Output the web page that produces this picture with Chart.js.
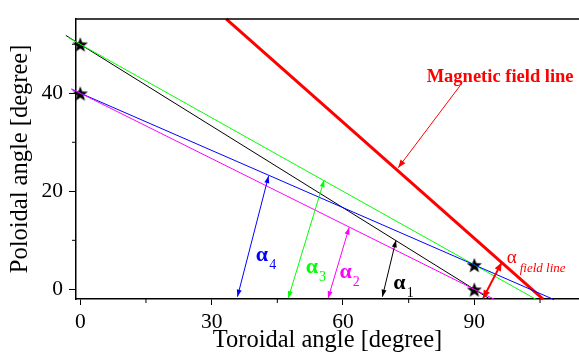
<!DOCTYPE html>
<html>
<head>
<meta charset="utf-8">
<script src="https://cdn.jsdelivr.net/npm/chart.js@4.4.1/dist/chart.umd.min.js"></script>
<style>
  html, body { margin: 0; padding: 0; background: #fff; }
  #wrap { width: 579px; height: 355px; }
</style>
</head>
<body>
<div id="wrap"><canvas id="chart" width="579" height="355"></canvas></div>
<script>
// ==================== DATA ====================

const xTicks = [0, 30, 60, 90];
const yTicks = [0, 20, 40];
const xMinorTicks = [15, 45, 75, 105];
const yMinorTicks = [10, 30, 50];

// marked points (stars)
const starX = [0, 0, 90, 90];
const starY = [50, 40, 5, 0];

// straight lines, read end to end
const blackX = [-3.3, 93.6];
const blackY = [51.8, -2.0];
const greenX = [-2.8, 104.2];
const greenY = [51.4, -2.1];
const blueX = [-2.0, 108.2];
const blueY = [40.8, -2.1];
const magentaX = [-2.0, 94.5];
const magentaY = [40.9, -2.0];
const fieldX = [33.3, 105.7];
const fieldY = [55.2, -2.0];

// ==================== HELPERS ====================

const FONT = '"Liberation Serif", "Times New Roman", serif';

function toPoints(xs, ys) {
    return xs.map((x, i) => ({ x: x, y: ys[i] }));
}

function makeStar(r) {
    const c = document.createElement('canvas');
    const size = Math.ceil(r * 2) + 2;
    c.width = size;
    c.height = size;
    const g = c.getContext('2d');
    const cx = size / 2, cy = size / 2 + 1;
    g.beginPath();
    for (let i = 0; i < 10; i++) {
        const rad = i % 2 === 0 ? r : r * 0.42;
        const a = -Math.PI / 2 + i * Math.PI / 5;
        const px = cx + rad * Math.cos(a), py = cy + rad * Math.sin(a);
        if (i === 0) g.moveTo(px, py); else g.lineTo(px, py);
    }
    g.closePath();
    g.fillStyle = '#000';
    g.fill();
    return c;
}

function lineSet(xs, ys, color, width) {
    return {
        data: toPoints(xs, ys),
        showLine: true,
        borderColor: color,
        borderWidth: width,
        pointRadius: 0,
        clip: false
    };
}

// ==================== ANNOTATIONS ====================

// double arrows marking the angles (data units)
const angleArrows = [
    { from: [43.0, 23.1], to: [35.9, -1.5], color: '#0000ff', width: 1 },
    { from: [55.7, 22.3], to: [47.5, -1.8], color: '#00ff00', width: 1 },
    { from: [61.4, 12.6], to: [56.6, -1.8], color: '#ff00ff', width: 1 },
    { from: [72.1, 10.0], to: [69.0, -1.5], color: '#000000', width: 1 },
    { from: [96.2, 5.4], to: [92.0, -1.8], color: '#ff0000', width: 2 }
];

const angleLabels = [
    { x: 40.1, y: 5.7, sub: '4', color: '#0000ff' },
    { x: 51.5, y: 3.4, sub: '3', color: '#00ff00' },
    { x: 59.2, y: 2.4, sub: '2', color: '#ff00ff' },
    { x: 71.5, y: 0.1, sub: '1', color: '#000000' }
];

function drawHead(ctx, x0, y0, x1, y1, len, half) {
    const a = Math.atan2(y1 - y0, x1 - x0);
    ctx.beginPath();
    ctx.moveTo(x1, y1);
    ctx.lineTo(x1 - len * Math.cos(a) + half * Math.sin(a), y1 - len * Math.sin(a) - half * Math.cos(a));
    ctx.lineTo(x1 - len * Math.cos(a) - half * Math.sin(a), y1 - len * Math.sin(a) + half * Math.cos(a));
    ctx.closePath();
    ctx.fill();
}

function drawArrow(ctx, x0, y0, x1, y1, both, len, half) {
    ctx.beginPath();
    ctx.moveTo(x0, y0);
    ctx.lineTo(x1, y1);
    ctx.stroke();
    drawHead(ctx, x0, y0, x1, y1, len, half);
    if (both) drawHead(ctx, x1, y1, x0, y0, len, half);
}

const decorations = {
    id: 'decorations',
    afterDraw(chart) {
        const ctx = chart.ctx;
        const xs = chart.scales.x, ys = chart.scales.y;
        const area = chart.chartArea;
        const px = v => xs.getPixelForValue(v);
        const py = v => ys.getPixelForValue(v);

        ctx.save();

        // top frame line
        ctx.strokeStyle = '#000';
        ctx.lineWidth = 1.5;
        ctx.beginPath();
        ctx.moveTo(area.left - 0.75, area.top);
        ctx.lineTo(area.right, area.top);
        ctx.stroke();

        // minor ticks
        ctx.lineWidth = 1;
        xMinorTicks.forEach(v => {
            ctx.beginPath();
            ctx.moveTo(px(v), area.bottom);
            ctx.lineTo(px(v), area.bottom + 4);
            ctx.stroke();
        });
        yMinorTicks.forEach(v => {
            ctx.beginPath();
            ctx.moveTo(area.left, py(v));
            ctx.lineTo(area.left - 4, py(v));
            ctx.stroke();
        });

        // angle arrows
        angleArrows.forEach(a => {
            ctx.strokeStyle = a.color;
            ctx.fillStyle = a.color;
            ctx.lineWidth = a.width;
            const big = a.width > 1;
            drawArrow(ctx, px(a.from[0]), py(a.from[1]), px(a.to[0]), py(a.to[1]), true,
                big ? 8 : 7, big ? 3.5 : 2.5);
        });

        // alpha labels
        ctx.textBaseline = 'alphabetic';
        ctx.textAlign = 'left';
        angleLabels.forEach(l => {
            ctx.fillStyle = l.color;
            ctx.font = 'bold 22px ' + FONT;
            const x = px(l.x), y = py(l.y);
            ctx.fillText('\u03b1', x, y);
            const w = ctx.measureText('\u03b1').width;
            ctx.font = '14px ' + FONT;
            ctx.fillText(l.sub, x + w + 1, y + 8);
        });

        // alpha field line label
        ctx.fillStyle = '#ff0000';
        ctx.font = '19px ' + FONT;
        const fx = px(97.4), fy = py(5.4);
        ctx.fillText('\u03b1', fx, fy);
        ctx.font = 'italic 13px ' + FONT;
        ctx.fillText('field line', fx + 13, fy + 9);

        // magnetic field line label and pointer
        ctx.font = 'bold 18.5px ' + FONT;
        ctx.fillText('Magnetic field line', px(79.1), py(42.2));
        ctx.strokeStyle = '#ff0000';
        ctx.lineWidth = 1;
        drawArrow(ctx, px(86.7), py(41.5), px(72.6), py(24.8), false, 8, 3);

        ctx.restore();
    }
};

// ==================== CHART ====================

const starImg = makeStar(8);

new Chart(document.getElementById('chart'), {
    type: 'scatter',
    data: {
        datasets: [
            lineSet(magentaX, magentaY, '#ff00ff', 1),
            lineSet(blueX, blueY, '#0000ff', 1),
            lineSet(greenX, greenY, '#00ff00', 1),
            lineSet(blackX, blackY, '#000000', 1),
            lineSet(fieldX, fieldY, '#ff0000', 3),
            {
                data: toPoints(starX, starY),
                pointStyle: starImg,
                pointRadius: 8,
                clip: false
            }
        ]
    },
    options: {
        responsive: false,
        animation: false,
        events: [],
        layout: { autoPadding: false, padding: { top: 9, right: 0, left: 0, bottom: 0 } },
        plugins: {
            legend: { display: false },
            tooltip: { enabled: false }
        },
        scales: {
            x: {
                type: 'linear',
                min: -0.98,
                max: 113.9,
                afterBuildTicks: s => { s.ticks = xTicks.map(v => ({ value: v })); },
                afterFit: s => { s.height = 56; },
                grid: { drawOnChartArea: false, tickLength: 6, color: '#000', tickWidth: 1 },
                border: { color: '#000', width: 1.5 },
                ticks: { color: '#000', font: { family: FONT, size: 21.5 }, padding: 4, maxRotation: 0 },
                title: {
                    display: true,
                    text: 'Toroidal angle [degree]',
                    color: '#000',
                    font: { family: FONT, size: 24.5 },
                    padding: { top: 0, bottom: 0 }
                }
            },
            y: {
                type: 'linear',
                min: -1.97,
                max: 55.17,
                afterBuildTicks: s => { s.ticks = yTicks.map(v => ({ value: v })); },
                afterFit: s => { s.width = 76; },
                grid: { drawOnChartArea: false, tickLength: 7, color: '#000', tickWidth: 1 },
                border: { color: '#000', width: 1.5 },
                ticks: { color: '#000', font: { family: FONT, size: 21.5 }, padding: 6 },
                title: {
                    display: true,
                    text: 'Poloidal angle [degree]',
                    color: '#000',
                    font: { family: FONT, size: 24.5 },
                    padding: { top: 6, bottom: 0 }
                }
            }
        }
    },
    plugins: [decorations]
});
</script>
</body>
</html>
